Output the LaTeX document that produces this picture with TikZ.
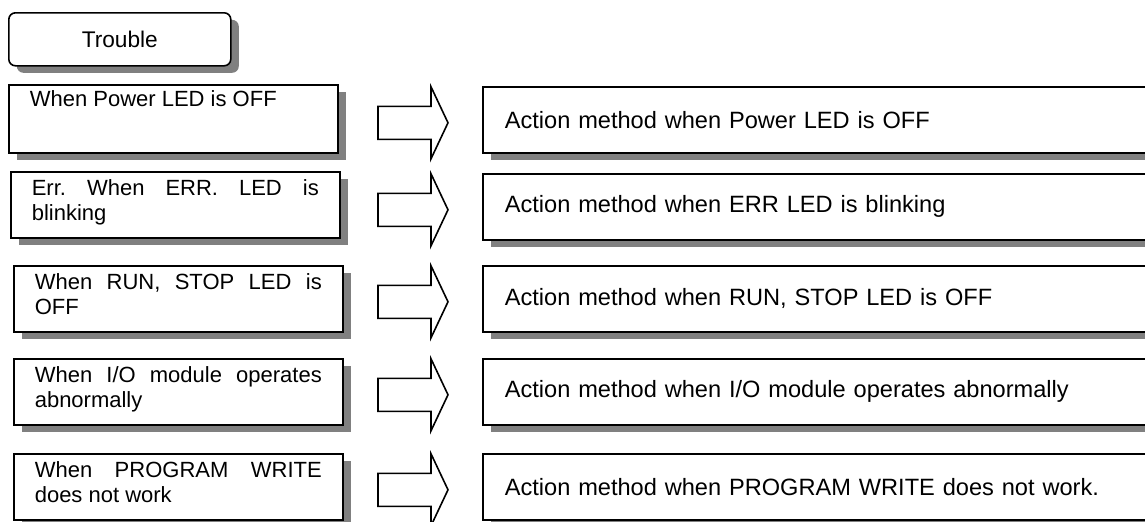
\documentclass[tikz,border=0pt]{standalone}
\usepackage{fontspec}
\setmainfont{Liberation Sans}
\usetikzlibrary{shadows}
\frenchspacing

\tikzset{
  boxshadow/.style={drop shadow={shadow xshift=6pt,shadow yshift=-5.25pt,fill=black!50,opacity=1}},
  troublebox/.style={draw,line width=1.2pt,fill=white,boxshadow,rounded corners=5pt,anchor=north west,
    minimum width=166.5pt,minimum height=39.75pt,font=\fontsize{17}{20}\selectfont},
  trbbox/.style={draw,line width=1.2pt,fill=white,boxshadow,anchor=north west,inner xsep=15.75pt,inner ysep=0pt,
    text width=215.25pt,align=justify,text height=18pt,text depth=31.5pt,font=\fontsize{16.5}{18.75}\selectfont},
  actbox/.style={draw,line width=1.2pt,fill=white,boxshadow,anchor=north west,inner xsep=16.5pt,inner ysep=0pt,
    text width=475.5pt,align=left,minimum height=49.5pt,font=\fontsize{17.7}{21}\selectfont},
  blockarrow/.style={draw,line width=1.2pt,line join=miter}
}

\begin{document}
\begin{tikzpicture}[x=0.75pt,y=-0.75pt]
  \useasboundingbox (0,0) rectangle (1145,521);
  \clip (0,0) rectangle (1145,521);
  % header
  \node[troublebox] (trouble) at (8,12) {Trouble};
  % trouble cases
  \node[trbbox,text height=16.5pt,text depth=34.5pt] (trb1) at (8,84) {When Power LED is OFF};
  \node[trbbox] (trb2) at (10,171) {Err. When ERR. LED is\linebreak blinking};
  \node[trbbox] (trb3) at (13,265) {When RUN, STOP LED is\linebreak OFF};
  \node[trbbox] (trb4) at (13,358) {When I/O module operates\linebreak abnormally};
  \node[trbbox] (trb5) at (13,453) {When PROGRAM WRITE\linebreak does not work};
  % action methods
  \node[actbox] (act1) at (482,86) {Action method when Power LED is OFF};
  \node[actbox] (act2) at (482,173) {Action method when ERR LED is blinking};
  \node[actbox] (act3) at (482,265) {Action method when RUN, STOP LED is OFF};
  \node[actbox] (act4) at (482,358) {Action method when I/O module operates abnormally};
  \node[actbox] (act5) at (482,453) {Action method when PROGRAM WRITE does not work.};
  % block arrows
  \foreach \i in {1,...,5}
    \draw[blockarrow,shift={(act\i.west)}] (-104,-13.5) -- (-51,-13.5) -- (-51,-33) -- (-34,3)
      -- (-51,39) -- (-51,19.5) -- (-104,19.5) -- cycle;
\end{tikzpicture}
\end{document}
